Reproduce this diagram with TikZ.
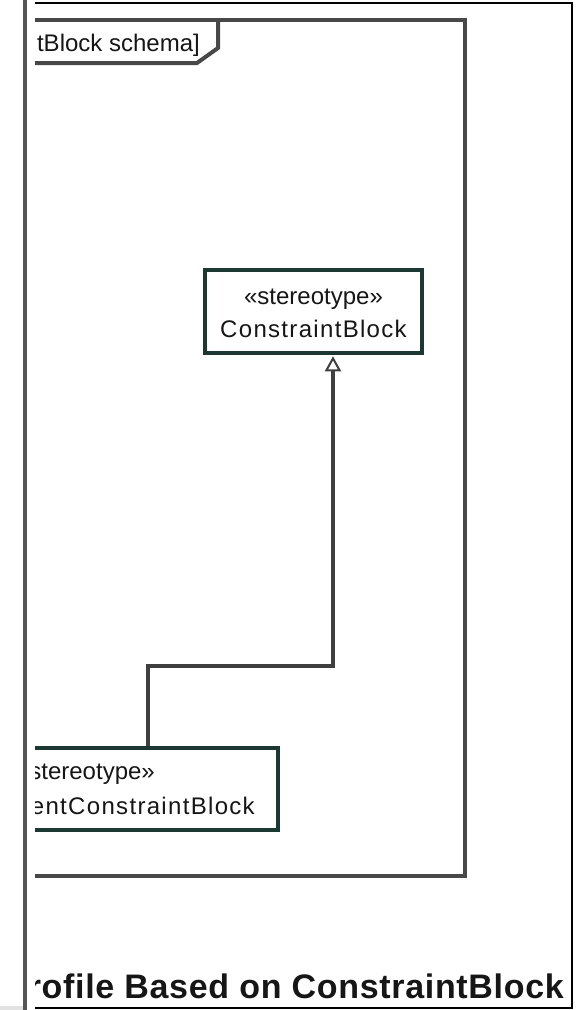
\documentclass[tikz,border=0pt]{standalone}
\usepackage{fontspec}
\setmainfont{Liberation Sans}
\newfontfamily\spacedfont[LetterSpace=5.5]{Liberation Sans}
\newfontfamily\titlefont[LetterSpace=2]{Liberation Sans}
\usetikzlibrary{arrows.meta}
\definecolor{framegray}{HTML}{484848}
\definecolor{boxteal}{HTML}{1B3833}
\definecolor{conngray}{HTML}{3F3F3F}
\definecolor{txt}{HTML}{161616}
\definecolor{sidegray}{HTML}{555555}
\definecolor{cornergray}{HTML}{E2E2E2}
\begin{document}
\begin{tikzpicture}[x=1pt,y=-1pt,
  blockbox/.style={draw=boxteal, line width=3.5pt, fill=white, inner sep=0pt},
  boxtext/.style={text=txt, font=\fontsize{24}{33}\selectfont, inner sep=0pt},
  conn/.style={draw=conngray, line width=4pt},
  frameline/.style={draw=framegray, line width=4pt},
  genarrow/.style={-{Triangle[open, length=15pt, width=16pt, line width=2pt]}}]
\useasboundingbox (0,0) rectangle (577,1010);
\fill[white] (0,0) rectangle (577,1010);
\fill[cornergray] (0,1006) rectangle (23,1010);
\draw[sidegray, line width=4pt] (25,0) -- (25,1010);
\begin{scope}
  \clip (35,0) rectangle (577,1010);
  % outer border
  \draw[black, line width=1.5pt] (-60,3) rectangle (572,1008);
  % diagram frame and tab
  \draw[frameline] (-100,20) rectangle (465,876);
  \draw[frameline, line join=miter] (218,20) -- (218,48) -- (197,63) -- (-100,63);
  \node[boxtext, anchor=base east] (tabtxt) at (200,51) {tBlock schema]};
  % blocks
  \node[blockbox, minimum width=217pt, minimum height=83pt] (cb) at (313.5,311.5) {};
  \node[boxtext, align=center] (cbtxt) at (313.5,313) {«stereotype»\\{\spacedfont ConstraintBlock}};
  \node[blockbox, minimum width=386pt, minimum height=82pt] (sub) at (85,789) {};
  \node[boxtext, anchor=base east] (subst) at (155,779) {«stereotype»};
  \node[boxtext, anchor=base east] (subname) at (255,814) {\spacedfont entConstraintBlock};
  % generalization
  \coordinate (j1) at (148,666);
  \coordinate (j2) at (333,666);
  \draw[conn, genarrow, line join=miter] (j1 |- sub.north) -- (j1) -- (j2) -- ([yshift=-1.5pt]j2 |- cb.south);
  % title
  \node[text=txt, inner sep=0pt, anchor=base east, font=\fontsize{34}{40}\selectfont\titlefont\bfseries] (title) at (564,998) {rofile Based on ConstraintBlock};
\end{scope}
\end{tikzpicture}
\end{document}
